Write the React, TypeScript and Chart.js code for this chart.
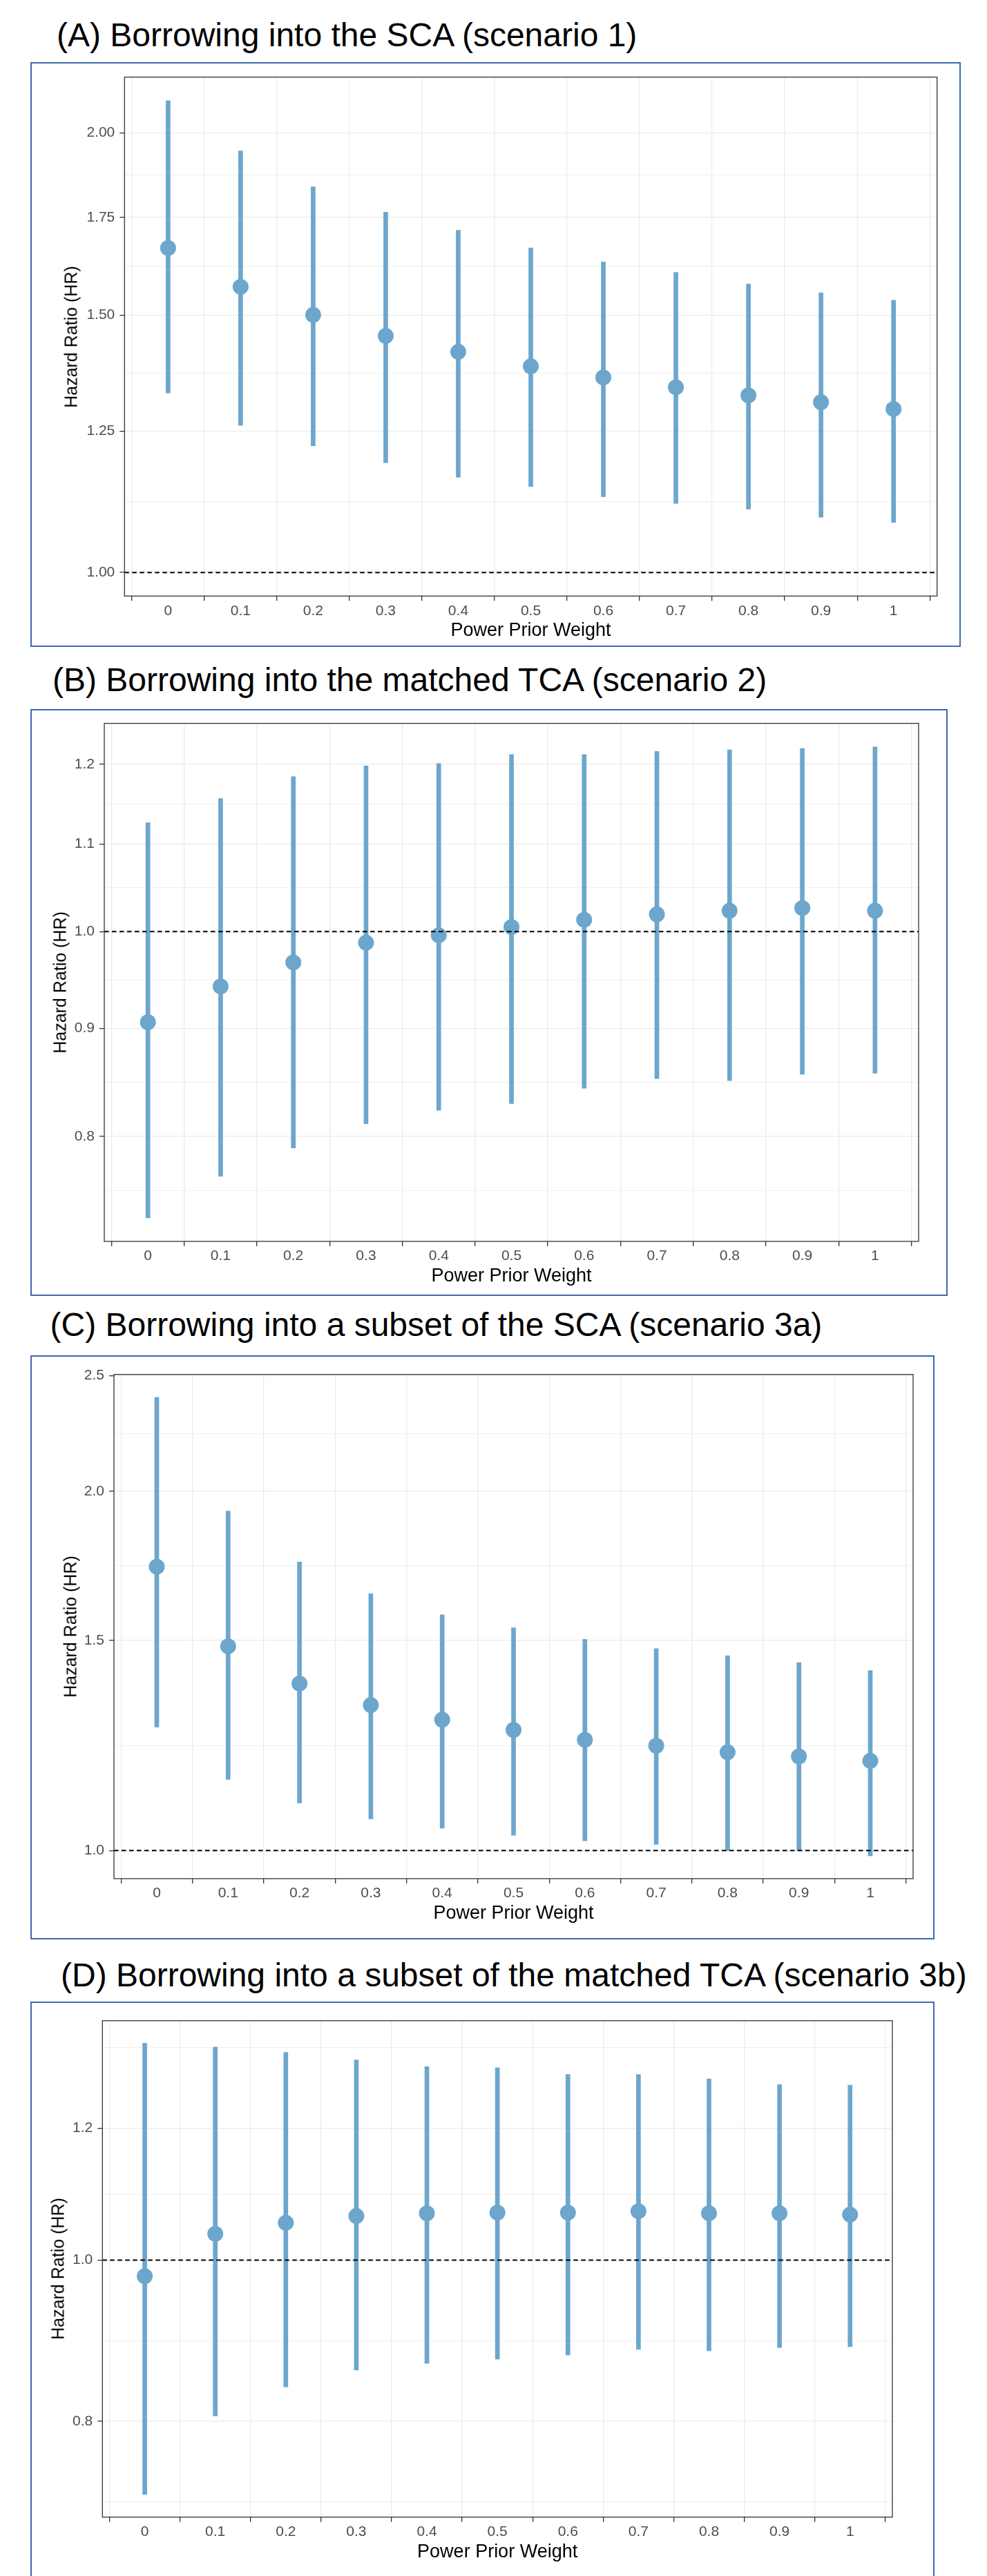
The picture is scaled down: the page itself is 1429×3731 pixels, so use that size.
import React, { useEffect, useRef } from "react";
import { Chart, registerables } from "chart.js";

Chart.register(...registerables);

const FONT = "'Liberation Sans', Arial, Helvetica, sans-serif";
Chart.defaults.font.family = FONT;

// ---------- data ----------
const weightLabels = ["0", "0.1", "0.2", "0.3", "0.4", "0.5", "0.6", "0.7", "0.8", "0.9", "1"];

const estA = [1.668, 1.569, 1.501, 1.452, 1.416, 1.384, 1.36, 1.339, 1.322, 1.308, 1.294];
const lowA = [1.327, 1.261, 1.221, 1.189, 1.162, 1.145, 1.127, 1.115, 1.105, 1.091, 1.082];
const upA = [2.104, 1.944, 1.837, 1.765, 1.715, 1.668, 1.632, 1.605, 1.576, 1.554, 1.536];
const yTicksA = [1.0, 1.25, 1.5, 1.75, 2.0];
const yTickLabelsA = ["1.00", "1.25", "1.50", "1.75", "2.00"];

const estB = [0.906, 0.942, 0.967, 0.988, 0.996, 1.005, 1.013, 1.019, 1.023, 1.026, 1.023];
const lowB = [0.732, 0.766, 0.79, 0.811, 0.823, 0.829, 0.843, 0.852, 0.85, 0.856, 0.857];
const upB = [1.126, 1.156, 1.184, 1.198, 1.201, 1.213, 1.213, 1.217, 1.219, 1.221, 1.223];
const yTicksB = [0.8, 0.9, 1.0, 1.1, 1.2];
const yTickLabelsB = ["0.8", "0.9", "1.0", "1.1", "1.2"];

const estC = [1.729, 1.483, 1.38, 1.324, 1.287, 1.262, 1.238, 1.224, 1.209, 1.199, 1.189];
const lowC = [1.269, 1.147, 1.096, 1.063, 1.044, 1.03, 1.019, 1.012, 1.0, 1.0, 0.99];
const upC = [2.397, 1.925, 1.745, 1.641, 1.576, 1.537, 1.503, 1.476, 1.456, 1.437, 1.415];
const yTicksC = [1.0, 1.5, 2.0, 2.5];
const yTickLabelsC = ["1.0", "1.5", "2.0", "2.5"];

const estD = [0.978, 1.037, 1.053, 1.063, 1.067, 1.068, 1.068, 1.07, 1.067, 1.067, 1.065];
const lowD = [0.723, 0.806, 0.839, 0.859, 0.867, 0.872, 0.877, 0.884, 0.882, 0.886, 0.887];
const upD = [1.35, 1.343, 1.333, 1.319, 1.307, 1.305, 1.293, 1.293, 1.285, 1.275, 1.274];
const yTicksD = [0.8, 1.0, 1.2];
const yTickLabelsD = ["0.8", "1.0", "1.2"];

const REF_HR = 1;

// ---------- styles / layout ----------
const BAR_COLOR = "#6CA6CD";
const BOX_COLOR = "#3c6aab";
const GRID_COLOR = "#ebebeb";
const AXIS_COLOR = "#333333";
const TICK_TEXT = "#4d4d4d";

type Rect = { l: number; t: number; r: number; b: number };
type PanelSpec = {
  title: string;
  titleX: number;
  titleBaseline: number;
  box: Rect;
  plot: Rect;
  yTitleX: number;
  est: number[];
  low: number[];
  up: number[];
  yTicks: number[];
  yTickLabels: string[];
};

const panels: PanelSpec[] = [
  {
    title: "(A) Borrowing into the SCA (scenario 1)",
    titleX: 82, titleBaseline: 68,
    box: { l: 44, t: 90, r: 1391, b: 937 },
    plot: { l: 180.3, t: 111.7, r: 1356.7, b: 863.3 },
    yTitleX: 103.3,
    est: estA, low: lowA, up: upA, yTicks: yTicksA, yTickLabels: yTickLabelsA,
  },
  {
    title: "(B) Borrowing into the matched TCA (scenario 2)",
    titleX: 76, titleBaseline: 1002,
    box: { l: 44, t: 1027, r: 1372, b: 1877 },
    plot: { l: 151, t: 1047.7, r: 1330, b: 1798 },
    yTitleX: 87,
    est: estB, low: lowB, up: upB, yTicks: yTicksB, yTickLabels: yTickLabelsB,
  },
  {
    title: "(C) Borrowing into a subset of the SCA (scenario 3a)",
    titleX: 72.5, titleBaseline: 1935.4,
    box: { l: 44, t: 1963, r: 1353, b: 2809 },
    plot: { l: 165, t: 1990.7, r: 1322, b: 2721 },
    yTitleX: 101.8,
    est: estC, low: lowC, up: upC, yTicks: yTicksC, yTickLabels: yTickLabelsC,
  },
  {
    title: "(D) Borrowing into a subset of the matched TCA (scenario 3b)",
    titleX: 88, titleBaseline: 2877.5,
    box: { l: 44, t: 2899, r: 1353, b: 3745 },
    plot: { l: 148.3, t: 2926.7, r: 1292, b: 3645.7 },
    yTitleX: 84.3,
    est: estD, low: lowD, up: upD, yTicks: yTicksD, yTickLabels: yTickLabelsD,
  },
];

// ggplot-like minor breaks on a log-transformed axis
function minorBreaks(majors: number[], lo: number, hi: number): number[] {
  const b = majors.map(Math.log);
  const L = Math.log(lo);
  const H = Math.log(hi);
  const bd = b[1] - b[0];
  const ext = [...b];
  if (L < b[0]) ext.unshift(b[0] - bd);
  if (H > b[b.length - 1]) ext.push(b[b.length - 1] + bd);
  const out: number[] = [];
  for (let i = 0; i < ext.length - 1; i++) {
    const m = (ext[i] + ext[i + 1]) / 2;
    if (m > L && m < H) out.push(Math.exp(m));
  }
  return out;
}

const decoPlugin = {
  id: "deco",
  afterDatasetsDraw(chart: any) {
    const { ctx, chartArea, scales } = chart;
    const py = scales.y.getPixelForValue(REF_HR);
    ctx.save();
    ctx.strokeStyle = "#000000";
    ctx.lineWidth = 2;
    ctx.setLineDash([6.5, 4.5]);
    ctx.beginPath();
    ctx.moveTo(chartArea.left, py);
    ctx.lineTo(chartArea.right, py);
    ctx.stroke();
    ctx.restore();
  },
  afterDraw(chart: any) {
    const { ctx, chartArea } = chart;
    ctx.save();
    ctx.strokeStyle = AXIS_COLOR;
    ctx.lineWidth = 1.3;
    ctx.strokeRect(
      chartArea.left,
      chartArea.top,
      chartArea.right - chartArea.left,
      chartArea.bottom - chartArea.top
    );
    ctx.restore();
  },
};

function Panel({ spec }: { spec: PanelSpec }) {
  const ref = useRef<HTMLCanvasElement | null>(null);
  const { box, plot } = spec;
  const W = box.r - box.l;
  const H = box.b - box.t;

  useEffect(() => {
    const canvas = ref.current;
    if (!canvas) return;
    const pl = plot.l - box.l;
    const pt = plot.t - box.t;
    const pr = box.r - plot.r;
    const pb = box.b - plot.b;

    const lnLo = Math.min(Math.log(REF_HR), ...spec.low.map(Math.log));
    const lnHi = Math.max(Math.log(REF_HR), ...spec.up.map(Math.log));
    const pad = (lnHi - lnLo) * 0.05;
    const yMin = Math.exp(lnLo - pad);
    const yMax = Math.exp(lnHi + pad);
    const minors = minorBreaks(spec.yTicks, yMin, yMax);
    const yTickObjs = [
      ...spec.yTicks.map((v, i) => ({ value: v, label: spec.yTickLabels[i], minorTick: false })),
      ...minors.map((v) => ({ value: v, label: "", minorTick: true })),
    ].sort((a, b) => a.value - b.value);

    const chart = new Chart(canvas, {
      type: "bar",
      data: {
        datasets: [
          {
            type: "scatter",
            data: spec.est.map((v, i) => ({ x: i, y: v })),
            backgroundColor: BAR_COLOR,
            borderColor: BAR_COLOR,
            pointRadius: 11.5,
            pointHoverRadius: 11.5,
            pointBorderWidth: 0,
            order: 0,
          } as any,
          {
            type: "bar",
            data: spec.low.map((v, i) => ({ x: i, y: [v, spec.up[i]] })),
            backgroundColor: BAR_COLOR,
            borderWidth: 0,
            barThickness: 6,
            order: 1,
          } as any,
        ],
      },
      options: {
        responsive: false,
        animation: false,
        devicePixelRatio: 1,
        events: [],
        layout: { padding: { left: 0, top: pt, right: pr, bottom: 0 } },
        plugins: { legend: { display: false }, tooltip: { enabled: false } },
        scales: {
          x: {
            type: "linear",
            min: -0.6,
            max: weightLabels.length - 1 + 0.6,
            bounds: "data",
            offset: false,
            afterBuildTicks: (s: any) => {
              s.ticks = weightLabels.map((_, i) => ({ value: i }));
            },
            afterFit: (s: any) => {
              s.height = pb;
            },
            ticks: {
              autoSkip: false,
              maxRotation: 0,
              padding: 2,
              color: TICK_TEXT,
              font: { size: 21, family: FONT },
              callback: (v: any) => weightLabels[Math.round(Number(v))] ?? "",
            },
            grid: {
              color: GRID_COLOR,
              lineWidth: 1.3,
              tickLength: 7,
              tickColor: AXIS_COLOR,
              tickWidth: 1.3,
            },
            border: { display: false },
          },
          y: {
            type: "logarithmic",
            min: yMin,
            max: yMax,
            bounds: "data",
            afterBuildTicks: (s: any) => {
              s.ticks = yTickObjs.map((t) => ({ ...t }));
            },
            afterFit: (s: any) => {
              s.width = pl;
            },
            ticks: {
              autoSkip: false,
              padding: 7,
              color: TICK_TEXT,
              font: { size: 21, family: FONT },
              callback: (_v: any, i: number, ticks: any[]) => ticks[i]?.label ?? "",
            },
            grid: {
              color: GRID_COLOR,
              lineWidth: (ctx: any) => (ctx.tick && ctx.tick.minorTick ? 0.8 : 1.3),
              tickLength: 7,
              tickColor: (ctx: any) => (ctx.tick && ctx.tick.minorTick ? "rgba(0,0,0,0)" : AXIS_COLOR),
              tickWidth: 1.3,
            },
            border: { display: false },
          },
        },
      } as any,
      plugins: [decoPlugin],
    });
    return () => chart.destroy();
  }, []);

  const titleSize = 48;
  const xTitleSize = 27;
  const yTitleSize = 25;
  const plotCy = (plot.t + plot.b) / 2;

  return (
    <>
      <div
        style={{
          position: "absolute",
          left: spec.titleX,
          top: spec.titleBaseline - 40.64,
          fontFamily: FONT,
          fontSize: titleSize,
          lineHeight: `${titleSize}px`,
          color: "#000",
          whiteSpace: "nowrap",
        }}
      >
        {spec.title}
      </div>
      <div
        style={{
          position: "absolute",
          left: box.l,
          top: box.t,
          width: W,
          height: H,
          boxSizing: "border-box",
          border: `2px solid ${BOX_COLOR}`,
        }}
      />
      <canvas
        ref={ref}
        width={W}
        height={H}
        style={{ position: "absolute", left: box.l, top: box.t, width: W, height: H }}
      />
      <div
        style={{
          position: "absolute",
          left: plot.l,
          width: plot.r - plot.l,
          top: plot.b + 49.5 - xTitleSize / 2,
          fontFamily: FONT,
          fontSize: xTitleSize,
          lineHeight: `${xTitleSize}px`,
          textAlign: "center",
          color: "#000",
          whiteSpace: "nowrap",
        }}
      >
        Power Prior Weight
      </div>
      <div
        style={{
          position: "absolute",
          left: spec.yTitleX,
          top: plotCy,
          width: 400,
          height: yTitleSize,
          fontFamily: FONT,
          fontSize: yTitleSize,
          lineHeight: `${yTitleSize}px`,
          textAlign: "center",
          color: "#000",
          whiteSpace: "nowrap",
          transform: "translate(-50%, -50%) rotate(-90deg)",
        }}
      >
        Hazard Ratio (HR)
      </div>
    </>
  );
}

export default function App() {
  return (
    <div
      style={{
        position: "absolute",
        left: 0,
        top: 0,
        width: 1429,
        height: 3731,
        overflow: "hidden",
        background: "#ffffff",
      }}
    >
      {panels.map((p, i) => (
        <Panel key={i} spec={p} />
      ))}
    </div>
  );
}
